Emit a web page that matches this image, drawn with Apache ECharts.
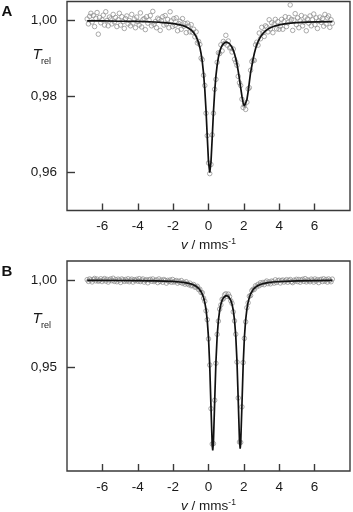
<!DOCTYPE html>
<html>
<head>
<meta charset="utf-8">
<script src="https://cdn.jsdelivr.net/npm/echarts@6/dist/echarts.min.js"></script>
<style>
  html, body { margin: 0; padding: 0; background: #fff; }
  #chart { width: 353px; height: 512px; }
</style>
</head>
<body>
<div id="chart"></div>
<script>
// velocity channels (mm/s), shared by both spectra
const velocity = [
  -6.86,-6.79,-6.72,-6.65,-6.58,-6.51,-6.44,-6.37,-6.30,-6.23,
  -6.16,-6.09,-6.02,-5.95,-5.88,-5.81,-5.74,-5.67,-5.60,-5.53,
  -5.46,-5.39,-5.32,-5.25,-5.18,-5.11,-5.04,-4.97,-4.90,-4.83,
  -4.76,-4.69,-4.62,-4.55,-4.48,-4.41,-4.34,-4.27,-4.20,-4.13,
  -4.06,-3.99,-3.92,-3.85,-3.78,-3.71,-3.64,-3.57,-3.50,-3.43,
  -3.36,-3.29,-3.22,-3.15,-3.08,-3.01,-2.94,-2.87,-2.80,-2.73,
  -2.66,-2.59,-2.52,-2.45,-2.38,-2.31,-2.24,-2.17,-2.10,-2.03,
  -1.96,-1.89,-1.82,-1.75,-1.68,-1.61,-1.54,-1.47,-1.40,-1.33,
  -1.26,-1.19,-1.12,-1.05,-0.98,-0.91,-0.84,-0.77,-0.70,-0.63,
  -0.56,-0.49,-0.42,-0.35,-0.28,-0.21,-0.14,-0.07,0.00,0.07,
  0.14,0.21,0.28,0.35,0.42,0.49,0.56,0.63,0.70,0.77,
  0.84,0.91,0.98,1.05,1.12,1.19,1.26,1.33,1.40,1.47,
  1.54,1.61,1.68,1.75,1.82,1.89,1.96,2.03,2.10,2.17,
  2.24,2.31,2.38,2.45,2.52,2.59,2.66,2.73,2.80,2.87,
  2.94,3.01,3.08,3.15,3.22,3.29,3.36,3.43,3.50,3.57,
  3.64,3.71,3.78,3.85,3.92,3.99,4.06,4.13,4.20,4.27,
  4.34,4.41,4.48,4.55,4.62,4.69,4.76,4.83,4.90,4.97,
  5.04,5.11,5.18,5.25,5.32,5.39,5.46,5.53,5.60,5.67,
  5.74,5.81,5.88,5.95,6.02,6.09,6.16,6.23,6.30,6.37,
  6.44,6.51,6.58,6.65,6.72,6.79,6.86,6.93,7.00
];

// panel A measured transmission
const transA = [
  1.0004,0.9991,1.0011,1.0019,0.9996,1.0013,0.9984,1.0006,1.0021,0.9964,
  1.0008,0.9994,1.0002,1.0014,0.9988,1.0023,1.0000,0.9986,1.0009,1.0004,
  0.9991,1.0016,0.9996,1.0008,0.9984,1.0002,1.0019,0.9988,1.0010,0.9997,
  0.9979,1.0005,1.0012,0.9991,1.0000,0.9986,1.0016,0.9993,1.0004,0.9981,
  1.0009,0.9997,0.9988,1.0020,0.9983,1.0002,1.0005,0.9976,1.0010,0.9993,
  1.0001,1.0013,0.9986,1.0024,0.9990,0.9997,0.9981,1.0006,1.0003,0.9974,
  0.9999,1.0010,0.9988,1.0013,0.9991,1.0003,0.9981,1.0023,0.9999,0.9984,
  1.0005,0.9987,1.0007,0.9973,0.9992,0.9998,0.9977,1.0005,0.9985,0.9992,
  0.9968,0.9993,0.9985,0.9970,0.9989,0.9969,0.9977,0.9957,0.9970,0.9941,
  0.9945,0.9937,0.9901,0.9897,0.9856,0.9829,0.9756,0.9697,0.9625,0.9597,
  0.9621,0.9699,0.9756,0.9819,0.9845,0.9890,0.9915,0.9913,0.9936,0.9920,
  0.9945,0.9940,0.9961,0.9935,0.9946,0.9928,0.9929,0.9917,0.9925,0.9898,
  0.9891,0.9882,0.9853,0.9836,0.9829,0.9793,0.9771,0.9777,0.9766,0.9785,
  0.9820,0.9823,0.9869,0.9892,0.9896,0.9895,0.9936,0.9943,0.9935,0.9967,
  0.9952,0.9982,0.9968,0.9958,0.9986,0.9983,0.9970,1.0002,0.9978,0.9994,
  0.9968,0.9990,1.0003,0.9978,0.9997,0.9977,0.9985,1.0003,0.9977,0.9997,
  1.0010,0.9984,0.9994,1.0008,1.0041,1.0003,0.9974,1.0001,1.0018,0.9989,
  1.0007,0.9981,0.9999,1.0013,0.9986,0.9996,1.0009,0.9973,1.0004,0.9993,
  1.0012,0.9986,1.0002,1.0017,0.9989,1.0007,0.9979,0.9999,1.0009,0.9995,
  1.0005,0.9985,1.0016,0.9991,1.0007,1.0012,0.9982,1.0002,0.9993
];

// panel B measured transmission
const transB = [
  1.0003,0.9993,1.0007,1.0001,0.9990,1.0004,1.0010,0.9996,1.0006,0.9994,
  0.9999,1.0008,0.9992,1.0002,1.0009,0.9995,1.0005,0.9989,1.0001,1.0007,
  0.9997,1.0011,0.9993,1.0003,0.9991,1.0006,1.0000,0.9987,1.0007,1.0001,
  0.9993,1.0004,0.9995,1.0008,0.9991,1.0000,1.0006,0.9989,1.0003,0.9997,
  1.0005,0.9994,1.0009,0.9992,1.0001,1.0007,0.9989,0.9999,1.0003,0.9985,
  1.0001,1.0005,0.9994,1.0007,0.9992,0.9998,1.0002,0.9986,1.0007,0.9993,
  1.0000,0.9988,1.0004,0.9998,0.9983,0.9999,0.9992,1.0001,0.9988,1.0004,
  0.9989,0.9994,0.9998,0.9983,0.9994,0.9987,0.9998,0.9982,0.9988,0.9977,
  0.9991,0.9980,0.9974,0.9983,0.9968,0.9970,0.9975,0.9960,0.9961,0.9965,
  0.9946,0.9948,0.9929,0.9928,0.9897,0.9879,0.9824,0.9773,0.9663,0.9513,
  0.9263,0.9060,0.9062,0.9311,0.9523,0.9689,0.9765,0.9834,0.9858,0.9890,
  0.9893,0.9916,0.9922,0.9907,0.9920,0.9906,0.9882,0.9867,0.9818,0.9766,
  0.9690,0.9530,0.9324,0.9071,0.9069,0.9273,0.9527,0.9666,0.9761,0.9842,
  0.9870,0.9908,0.9912,0.9940,0.9948,0.9947,0.9968,0.9962,0.9976,0.9968,
  0.9985,0.9976,0.9987,0.9974,0.9988,0.9995,0.9980,0.9990,0.9979,0.9995,
  0.9991,0.9983,1.0002,0.9987,0.9997,1.0000,0.9984,0.9997,1.0001,0.9989,
  0.9996,1.0003,0.9988,0.9998,1.0004,0.9991,0.9986,1.0000,0.9995,1.0005,
  0.9992,1.0004,0.9988,1.0000,1.0005,0.9993,1.0009,0.9990,1.0002,0.9997,
  0.9991,1.0006,1.0000,0.9989,1.0007,0.9995,1.0003,0.9986,1.0001,1.0005,
  0.9992,1.0008,0.9994,1.0004,0.9989,1.0007,0.9999,0.9991,1.0006
];

// fitted curves
const fitVelA = [-6.86,-5.95,-5.04,-4.06,-3.01,-2.52,-1.96,-1.61,-1.33,-1.12,-0.98,-0.84,-0.70,-0.63,-0.56,-0.49,-0.42,-0.35,-0.28,-0.21,-0.14,-0.07,0.00,0.07,0.14,0.21,0.28,0.35,0.42,0.49,0.56,0.63,0.70,0.77,0.84,0.91,0.98,1.05,1.12,1.19,1.26,1.33,1.40,1.47,1.54,1.61,1.68,1.75,1.82,1.89,1.96,2.03,2.10,2.17,2.24,2.31,2.38,2.45,2.52,2.59,2.66,2.73,2.80,2.94,3.08,3.22,3.36,3.50,3.78,4.06,4.48,4.97,5.53,6.09,7.00];
const fitA = [0.9999,0.9999,0.9998,0.99975,0.9996,0.99944,0.99918,0.99887,0.99846,0.99797,0.99749,0.9968,0.99577,0.99505,0.99412,0.99292,0.99131,0.98912,0.9861,0.98191,0.9763,0.96941,0.96285,0.95995,0.96273,0.96915,0.97591,0.98138,0.98542,0.98828,0.99031,0.99173,0.99274,0.99344,0.9939,0.99419,0.99432,0.99431,0.99418,0.99391,0.9935,0.99293,0.99219,0.99123,0.99001,0.98851,0.98669,0.98458,0.98229,0.98007,0.9783,0.97742,0.97773,0.97911,0.98123,0.98381,0.98635,0.98803,0.98983,0.99133,0.99256,0.99359,0.99442,0.9957,0.9966,0.99725,0.99773,0.9981,0.9986,0.99892,0.99923,0.99945,0.99955,0.99963,0.9997];

const fitVelB = [-6.86,-5.04,-4.06,-3.01,-2.03,-1.61,-1.33,-1.12,-0.98,-0.84,-0.70,-0.56,-0.49,-0.42,-0.35,-0.28,-0.21,-0.14,-0.07,0.00,0.07,0.14,0.21,0.24,0.28,0.35,0.42,0.49,0.56,0.63,0.70,0.77,0.84,0.91,0.98,1.05,1.12,1.19,1.26,1.33,1.40,1.47,1.54,1.61,1.68,1.75,1.79,1.82,1.89,1.96,2.03,2.10,2.17,2.24,2.31,2.38,2.52,2.66,2.80,3.01,3.29,3.64,4.06,5.04,6.02,7.00];
const fitB = [0.9999,0.9998,0.99978,0.99961,0.99928,0.99895,0.9986,0.99819,0.9978,0.99727,0.9965,0.99533,0.99451,0.99343,0.992,0.99004,0.98727,0.98318,0.9769,0.96691,0.95083,0.9273,0.90532,0.90236,0.90737,0.93067,0.95305,0.96789,0.97697,0.98258,0.98613,0.98842,0.98986,0.99073,0.99113,0.99114,0.99075,0.98991,0.98848,0.98623,0.98272,0.97717,0.96819,0.95352,0.93136,0.9083,0.90335,0.90628,0.92804,0.95132,0.96723,0.97712,0.98333,0.98738,0.99013,0.99207,0.99455,0.99601,0.99695,0.99782,0.99849,0.99895,0.99924,0.99961,0.99976,0.99984];

const xTicks = [-6, -4, -2, 0, 2, 4, 6];
const yTicksA = [0.96, 0.98, 1.00];
const yTicksB = [0.95, 1.00];

const font = 'Liberation Sans, Arial, sans-serif';
const frame = '#3a3a3a';
const ink = '#1a1a1a';

function xAxisFor(gridIndex) {
  return {
    type: 'value', gridIndex: gridIndex, min: -8, max: 8,
    axisLine: { show: false, onZero: false },
    axisTick: { show: true, inside: true, length: 7, customValues: xTicks,
      lineStyle: { color: frame, width: 1.4 } },
    axisLabel: { customValues: xTicks, margin: 9, fontSize: 13.5, color: ink, fontFamily: font },
    splitLine: { show: false },
    name: '{i|v} / mms{s|-1}',
    nameLocation: 'middle',
    nameGap: 27,
    nameTextStyle: {
      fontSize: 13.5, color: ink, fontFamily: font,
      rich: {
        i: { fontStyle: 'italic', fontSize: 13.5, fontFamily: font, color: ink },
        s: { fontSize: 8.5, fontFamily: font, color: ink, verticalAlign: 'top', padding: [0, 0, 7, 0] }
      }
    }
  };
}

function yAxisFor(gridIndex, min, max, ticks) {
  return {
    type: 'value', gridIndex: gridIndex, min: min, max: max,
    position: 'left',
    axisLine: { show: false, onZero: false },
    axisTick: { show: true, inside: true, length: 8, customValues: ticks,
      lineStyle: { color: frame, width: 1.4 } },
    axisLabel: { customValues: ticks, margin: 10, fontSize: 13.5, color: ink, fontFamily: font,
      formatter: function (v) { return v.toFixed(2).replace('.', ','); } },
    splitLine: { show: false }
  };
}

function pairs(xs, ys) {
  return xs.map(function (x, i) { return [x, ys[i]]; });
}

const dots = {
  type: 'scatter', symbol: 'circle', symbolSize: 4.5,
  itemStyle: { color: 'rgba(0,0,0,0)', borderColor: '#8a8a8a', borderWidth: 0.9 },
  z: 2
};
const curve = {
  type: 'line', symbol: 'none', smooth: false,
  lineStyle: { color: '#111', width: 1.7 },
  z: 3
};

const chart = echarts.init(document.getElementById('chart'));
chart.setOption({
  animation: false,
  backgroundColor: '#fff',
  grid: [
    { left: 67, top: 1.5, width: 283, height: 209, show: true, outerBoundsMode: 'none',
      borderColor: frame, borderWidth: 1.4, backgroundColor: 'transparent' },
    { left: 67, top: 261, width: 283, height: 210, show: true, outerBoundsMode: 'none',
      borderColor: frame, borderWidth: 1.4, backgroundColor: 'transparent' }
  ],
  xAxis: [xAxisFor(0), xAxisFor(1)],
  yAxis: [yAxisFor(0, 0.950, 1.005, yTicksA), yAxisFor(1, 0.8905, 1.011, yTicksB)],
  series: [
    Object.assign({}, dots, { xAxisIndex: 0, yAxisIndex: 0, data: pairs(velocity, transA) }),
    Object.assign({}, curve, { xAxisIndex: 0, yAxisIndex: 0, data: pairs(fitVelA, fitA) }),
    Object.assign({}, dots, { xAxisIndex: 1, yAxisIndex: 1, data: pairs(velocity, transB) }),
    Object.assign({}, curve, { xAxisIndex: 1, yAxisIndex: 1, data: pairs(fitVelB, fitB) })
  ],
  graphic: [
    { type: 'text', x: 7, y: 12, style: { text: 'A', font: 'bold 15px ' + font, fill: '#111', align: 'center', verticalAlign: 'middle' } },
    { type: 'text', x: 7, y: 272, style: { text: 'B', font: 'bold 15px ' + font, fill: '#111', align: 'center', verticalAlign: 'middle' } },
    { type: 'text', x: 37, y: 55, style: { text: 'T', font: 'italic 15px ' + font, fill: ink, align: 'center', verticalAlign: 'middle' } },
    { type: 'text', x: 46, y: 62, style: { text: 'rel', font: '9px ' + font, fill: ink, align: 'center', verticalAlign: 'middle' } },
    { type: 'text', x: 37, y: 319, style: { text: 'T', font: 'italic 15px ' + font, fill: ink, align: 'center', verticalAlign: 'middle' } },
    { type: 'text', x: 46, y: 326, style: { text: 'rel', font: '9px ' + font, fill: ink, align: 'center', verticalAlign: 'middle' } }
  ]
});
</script>
</body>
</html>
